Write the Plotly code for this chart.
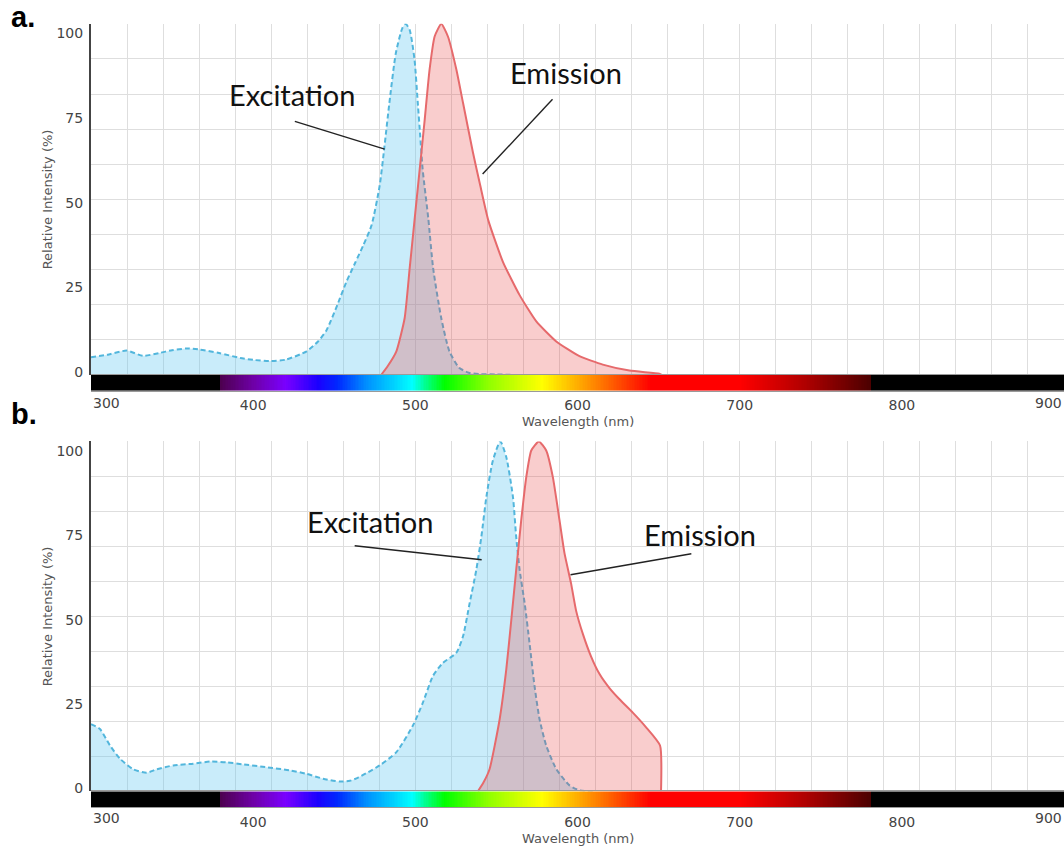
import numpy as np
import plotly.graph_objects as go

# ---------------- data ----------------
EX_A_NM = [300, 311, 322, 332, 342, 350, 359, 367, 379, 392, 401, 410, 420, 433, 440, 445, 448, 452,
           457.5, 463, 468, 473, 478, 481, 484, 488, 492, 494, 496.5, 499.5, 501.5, 503, 504.5, 508,
           511, 516, 521, 527, 533, 540, 550, 560]
EX_A_VAL = [5.0, 5.8, 6.9, 5.4, 6.2, 7.0, 7.5, 7.2, 6.2, 4.8, 4.2, 3.9, 4.3, 6.7, 9.5, 12.5, 15.5, 20,
            26.5, 32, 37, 42.6, 53.9, 65.2, 77.5, 91.7, 98.8, 100, 98.3, 89.8, 77.5, 68.1, 58.6, 44.5,
            30.3, 16.1, 6.7, 2.0, 0.6, 0.2, 0.1, 0]

EM_A_NM = [479, 483, 488.3, 493.4, 496.5, 499.6, 502.7, 505.8, 508.8, 511.9, 516, 520.1, 525.3, 529.4,
           535.5, 540, 545, 554, 564.3, 574.6, 586.9, 601.2, 615.6, 632, 650.5, 652]
EM_A_VAL = [0, 2.5, 6.7, 16.1, 30.3, 44.5, 58.6, 72.8, 87, 96.4, 100, 96.4, 87, 77.5,
            63.4, 54, 44, 32.2, 22.7, 15.2, 9.5, 5.3, 2.9, 1.2, 0.3, 0]

EX_B_NM = [300, 305.5, 311.7, 317.9, 326.1, 334.3, 340.5, 350.7, 363, 373.3, 383.6, 393.8, 408.2, 422.6,
           432.9, 443.1, 453.4, 459.6, 465, 471, 478, 488.3, 498.5, 504.7, 510.9, 517, 525.3, 529.4,
           533.5, 537.6, 540.7, 543.8, 547.8, 552.4, 556.1, 560.2, 562.2, 564.3, 567.4, 570.4, 573.5,
           576.6, 580.7, 586.9, 595.1, 601.2, 610]
EX_B_VAL = [19.2, 17.8, 13.1, 9.3, 6.3, 5.3, 6.3, 7.4, 7.9, 8.5, 8.3, 7.7, 6.9, 6.0,
            5.0, 3.6, 2.8, 3.0, 4.0, 5.5, 7.4, 11.2, 18.8, 25.4, 33.0, 36.7, 39.6, 44.3,
            53.8, 63.3, 72.7, 84.1, 94.5, 100, 95.5, 84.1, 72.7, 63.3, 53.8, 42.4, 30.1,
            20.6, 13.1, 6.4, 1.7, 0.3, 0]

EM_B_NM = [538.6, 542, 545.8, 552, 556.1, 559.2, 562.2, 565.3, 568.4, 571.5, 576.2, 580.7, 584.8, 588.9,
           592, 596, 599.2, 603.3, 608.4, 613.6, 619.7, 625.9, 634.1, 642.3, 650.9, 651.5]
EM_B_VAL = [0, 2.5, 6.4, 20.6, 34.9, 49.1, 63.3, 77.5, 89.8, 97.4, 100, 97.4, 89.8, 77.5,
            68, 59.5, 51.5, 45, 38.5, 33.5, 29.5, 26.3, 22.5, 18.3, 13.1, 0]

X_TICKS = [400, 500, 600, 700, 800]
X_END_TICKS = [300, 900]
Y_TICKS = [0, 25, 50, 75, 100]
PANEL_LABELS = ["a.", "b."]
SERIES_NAMES = ["Excitation", "Emission"]

# visible spectrum colour stops for the wavelength bar (nm, colour)
SPECTRUM_NM = [300, 379.5, 380, 400, 420, 440, 452, 470, 498, 506, 518, 545, 578, 612, 645, 700, 740, 780, 781, 900]
SPECTRUM_COL = ['#000000', '#000000', '#4d0050', '#6e00a6', '#7a00ff', '#1a00ff', '#0028ff', '#0090ff',
                '#00ffff', '#00ff90', '#00ff00', '#90ff00', '#ffff00', '#ff8000', '#ff0000', '#ff0000',
                '#b00000', '#4d0000', '#000000', '#000000']

# callout text positions and leader lines (data units) per panel
CALLOUT_TEXT = [[(423.8, 79.9), (593.2, 86.1)], [(471.9, 77.0), (675.8, 73.3)]]
CALLOUT_LINE = [[((425.7, 72.2), (481.1, 64.3)), ((584.6, 78.5), (541.5, 57.2))],
                [((462.6, 70.2), (540.9, 66.2)), ((670.2, 67.9), (595.7, 61.9))]]

# ---------------- layout geometry (pixels) ----------------
W, H = 1064, 854
X_LEFT = 91
PANELS = [dict(top=24, bottom=377, cb=393, tick=405, title=424, label=(23, 17)),
          dict(top=444, bottom=796, cb=812, tick=823, title=843, label=(24, 416))]


def py(p):
    return 1 - p / H


EX_LINE = '#52b6dc'
EX_FILL = 'rgba(100,200,240,0.35)'
EM_LINE = '#e66a6c'
EM_FILL = 'rgba(231,56,55,0.25)'
TICK_FONT = dict(family='DejaVu Sans', size=14, color='#444')
TITLE_FONT = dict(family='DejaVu Sans', size=13, color='#555')
CALLOUT_FONT = dict(family='Lato', size=29, color='#111')

fig = go.Figure()
layout = dict(width=W, height=H, margin=dict(l=0, r=0, t=0, b=0), paper_bgcolor='white',
              plot_bgcolor='white', showlegend=False)
annotations, shapes = [], []

scale = [((nm - 300) / 600, c) for nm, c in zip(SPECTRUM_NM, SPECTRUM_COL)]
bar_x = np.linspace(300, 900, 601)

series = [((EX_A_NM, EX_A_VAL), (EM_A_NM, EM_A_VAL)), ((EX_B_NM, EX_B_VAL), (EM_B_NM, EM_B_VAL))]
grid_dx = 600 / 27

for i, p in enumerate(PANELS):
    xd, yd = ('x', 'y') if i == 0 else ('x3', 'y3')
    xc, yc = ('x2', 'y2') if i == 0 else ('x4', 'y4')
    yl = 'y5' if i == 0 else 'y6'
    kx = lambda a: 'xaxis' + a[1:]
    ky = lambda a: 'yaxis' + a[1:]

    (exx, exy), (emx, emy) = series[i]
    fig.add_trace(go.Scatter(x=exx, y=exy, xaxis=xd, yaxis=yd, mode='lines', fill='tozeroy',
                             fillcolor=EX_FILL, line=dict(color=EX_LINE, width=2, dash='5px,3px',
                                                          shape='spline', smoothing=0.6),
                             hoverinfo='skip'))
    fig.add_trace(go.Scatter(x=emx, y=emy, xaxis=xd, yaxis=yd, mode='lines', fill='tozeroy',
                             fillcolor=EM_FILL, line=dict(color=EM_LINE, width=2,
                                                          shape='spline', smoothing=0.5),
                             hoverinfo='skip'))
    fig.add_trace(go.Scatter(x=[300], y=[0], xaxis=xd, yaxis=yl, mode='markers',
                             marker=dict(opacity=0), hoverinfo='skip'))
    fig.add_trace(go.Heatmap(x=bar_x, y=[0], z=[bar_x], xaxis=xc, yaxis=yc, colorscale=scale,
                             zmin=300, zmax=900, showscale=False, hoverinfo='skip'))

    xdom = [X_LEFT / W, 1.0]
    layout[kx(xd)] = dict(domain=xdom, anchor=yd, range=[300, 900], showticklabels=False,
                          showgrid=True, gridcolor='#dedede', gridwidth=1, tick0=300, dtick=grid_dx,
                          ticks='', zeroline=False, showline=False)
    layout[ky(yd)] = dict(domain=[py(p['bottom']), py(p['top'])], anchor=xd, range=[0, 100],
                          showticklabels=False, showgrid=True, gridcolor='#dedede', gridwidth=1,
                          tick0=0, dtick=10, ticks='', zeroline=False, showline=True,
                          linecolor='#444', linewidth=2)
    layout[ky(yl)] = dict(overlaying=yd, anchor=xd, side='left', range=[-0.88, 102.85],
                          tickvals=Y_TICKS, showgrid=False, zeroline=False, showline=False,
                          ticks='outside', ticklen=4, tickcolor='rgba(0,0,0,0)', tickfont=TICK_FONT)
    layout[kx(xc)] = dict(domain=xdom, anchor=yc, range=[300, 900], tickvals=X_TICKS,
                          ticks='outside', ticklen=2, tickcolor='rgba(0,0,0,0)', tickfont=TICK_FONT,
                          showgrid=False, zeroline=False, showline=True, mirror=True,
                          linecolor='#9a9a9a', linewidth=1)
    layout[ky(yc)] = dict(domain=[py(p['cb']), py(p['bottom'])], anchor=xc, range=[-0.5, 0.5],
                          visible=False)

    # end tick labels kept inside the axis
    for v, anc in zip(X_END_TICKS, ['left', 'right']):
        annotations.append(dict(x=v, y=py(p['tick']), xref=xc, yref='paper', text=str(v),
                                showarrow=False, xanchor=anc, yanchor='middle', font=TICK_FONT))
    annotations.append(dict(x=600, y=py(p['title']), xref=xc, yref='paper', text='Wavelength (nm)',
                            showarrow=False, xanchor='center', yanchor='middle', font=TITLE_FONT))
    annotations.append(dict(x=47 / W, y=py((p['top'] + p['bottom']) / 2), xref='paper', yref='paper',
                            text='Relative Intensity (%)', textangle=-90, showarrow=False,
                            xanchor='center', yanchor='middle', font=TITLE_FONT))
    lx, ly = p['label']
    annotations.append(dict(x=lx / W, y=py(ly), xref='paper', yref='paper', text='<b>%s</b>' % PANEL_LABELS[i],
                            showarrow=False, xanchor='center', yanchor='middle',
                            font=dict(family='Liberation Sans', size=29, color='#000')))
    for name, (tx, ty), ((x0, y0), (x1, y1)) in zip(SERIES_NAMES, CALLOUT_TEXT[i], CALLOUT_LINE[i]):
        annotations.append(dict(x=tx, y=ty, xref=xd, yref=yd, text=name, showarrow=False,
                                xanchor='center', yanchor='middle', font=CALLOUT_FONT))
        shapes.append(dict(type='line', xref=xd, yref=yd, x0=x0, y0=y0, x1=x1, y1=y1,
                           line=dict(color='#222', width=1.4)))

layout['annotations'] = annotations
layout['shapes'] = shapes
fig.update_layout(**layout)
fig.write_html('out.html', config={'displayModeBar': False},
               post_script="document.body.style.margin='0';document.body.style.overflow='hidden';")
